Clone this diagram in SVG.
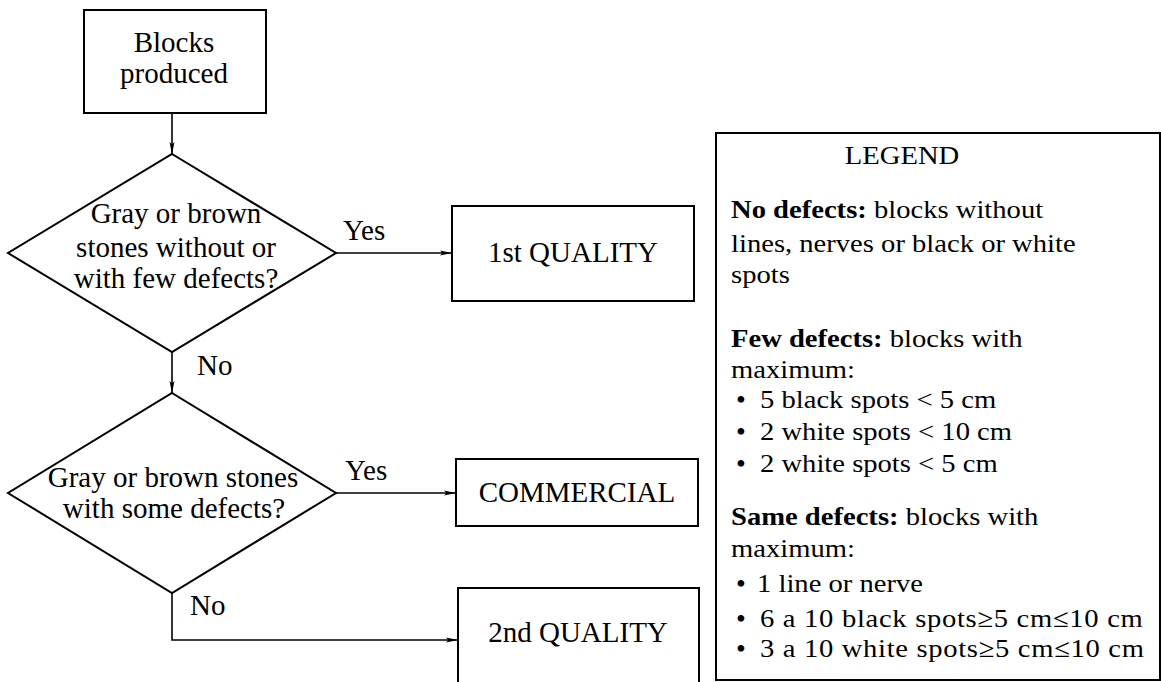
<svg xmlns="http://www.w3.org/2000/svg" width="1161" height="682" viewBox="0 0 1161 682">
<style>
.s{fill:#fff;stroke:#000;stroke-width:2}
.c{fill:none;stroke:#000;stroke-width:1.6}
text{font-family:"Liberation Serif","Times New Roman",serif;font-size:29px;fill:#000}
.l{font-size:26px}
.d{font-size:28px}
.m{text-anchor:middle}
.b{font-weight:bold}
</style>
<defs>
<marker id="ah" viewBox="0 0 12 6" refX="12" refY="3" markerWidth="12" markerHeight="6" markerUnits="userSpaceOnUse" orient="auto">
<path d="M0,0.5 L12,3 L0,5.5 L2.5,3 Z" fill="#000"/>
</marker>
</defs>
<rect width="1161" height="682" fill="#fff"/>
<g id="connectors">
<line class="c" x1="172" y1="113" x2="172" y2="154" marker-end="url(#ah)"/>
<line class="c" x1="333" y1="253" x2="452" y2="253" marker-end="url(#ah)"/>
<line class="c" x1="172" y1="352" x2="172" y2="393" marker-end="url(#ah)"/>
<line class="c" x1="333" y1="493" x2="456" y2="493" marker-end="url(#ah)"/>
<polyline class="c" points="172,593 172,640 458,640" marker-end="url(#ah)"/>
<text x="343" y="240">Yes</text>
<text x="197" y="375">No</text>
<text x="345" y="480">Yes</text>
<text x="190" y="615">No</text>
</g>
<g id="start">
<rect class="s" x="84" y="10" width="182" height="103"/>
<text class="m" x="174" y="52">Blocks</text>
<text class="m" x="174" y="83">produced</text>
</g>
<g id="decision1">
<polygon class="s" points="172,154 336,253 172,352 8,253"/>
<text class="m" x="176" y="223">Gray or brown</text>
<text class="m" x="176" y="257">stones without or</text>
<text class="m" x="176" y="288">with few defects?</text>
</g>
<g id="first-quality">
<rect class="s" x="452" y="206" width="242" height="95"/>
<text class="m" x="573" y="262">1st QUALITY</text>
</g>
<g id="decision2">
<polygon class="s" points="172,393 336,493 172,593 8,493"/>
<text class="m" x="173" y="487">Gray or brown stones</text>
<text class="m" x="174" y="518">with some defects?</text>
</g>
<g id="commercial">
<rect class="s" x="456" y="459" width="242" height="67"/>
<text class="m" x="577" y="502">COMMERCIAL</text>
</g>
<g id="second-quality">
<rect class="s" x="458" y="588" width="241" height="110"/>
<text class="m" x="578" y="642">2nd QUALITY</text>
</g>
<g id="legend">
<rect class="s" x="716" y="133" width="444" height="547"/>
<text class="l m" transform="translate(902,164) scale(1.1,1)">LEGEND</text>
<text class="l" transform="translate(731,218) scale(1.1,1)"><tspan class="b">No defects:</tspan> blocks without</text>
<text class="l" transform="translate(731,252) scale(1.1,1)">lines, nerves or black or white</text>
<text class="l" transform="translate(731,283) scale(1.1,1)">spots</text>
<text class="l" transform="translate(731,347) scale(1.1,1)"><tspan class="b">Few defects:</tspan> blocks with</text>
<text class="l" transform="translate(731,378) scale(1.1,1)">maximum:</text>
<text class="d" x="736" y="409">•</text>
<text class="l" transform="translate(760,408) scale(1.1,1)">5 black spots &lt; 5 cm</text>
<text class="d" x="736" y="441">•</text>
<text class="l" transform="translate(760,440) scale(1.1,1)">2 white spots &lt; 10 cm</text>
<text class="d" x="736" y="473">•</text>
<text class="l" transform="translate(760,472) scale(1.1,1)">2 white spots &lt; 5 cm</text>
<text class="l" transform="translate(731,525) scale(1.1,1)"><tspan class="b">Same defects:</tspan> blocks with</text>
<text class="l" transform="translate(731,557) scale(1.1,1)">maximum:</text>
<text class="d" x="736" y="593">•</text>
<text class="l" transform="translate(757,592) scale(1.1,1)">1 line or nerve</text>
<text class="d" x="736" y="628">•</text>
<text class="l" transform="translate(760,627) scale(1.1,1)" textLength="348" lengthAdjust="spacing">6 a 10 black spots≥5 cm≤10 cm</text>
<text class="d" x="736" y="658">•</text>
<text class="l" transform="translate(760,657) scale(1.1,1)" textLength="349" lengthAdjust="spacing">3 a 10 white spots≥5 cm≤10 cm</text>
</g>
</svg>
